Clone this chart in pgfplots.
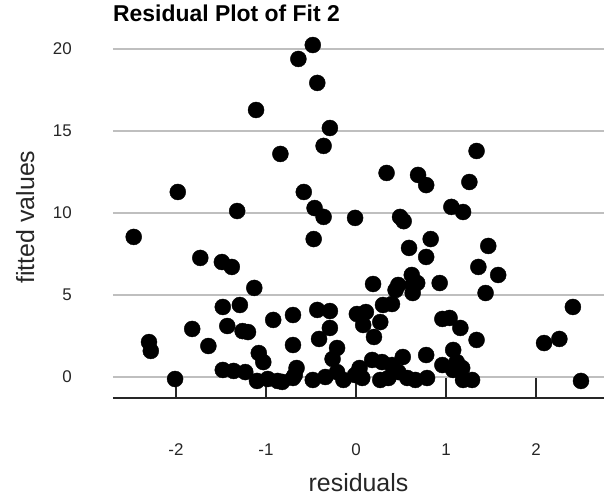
\documentclass[border=0pt]{standalone}
\usepackage{fontspec}
\setmainfont{Liberation Sans}
\setsansfont{Liberation Sans}
\usepackage{pgfplots}
\pgfplotsset{compat=1.18}

\pgfplotstableread{
x y
-2.47 8.54
-1.98 11.28
-1.32 10.12
-1.11 16.28
-0.84 13.60
-0.64 19.39
-0.48 20.24
-0.43 17.93
-0.29 15.18
-0.36 14.09
-0.58 11.28
-0.46 10.30
-0.36 9.76
-0.47 8.41
-0.01 9.70
0.34 12.44
0.69 12.32
0.78 11.70
0.49 9.76
0.53 9.50
1.06 10.37
1.19 10.06
1.26 11.89
1.34 13.78
0.59 7.87
0.83 8.41
1.47 7.99
-1.73 7.26
-1.49 7.01
-1.38 6.71
-1.13 5.43
-1.48 4.27
-1.29 4.39
-0.92 3.48
-1.82 2.93
-1.43 3.11
-1.26 2.80
-1.20 2.74
-2.30 2.13
-2.28 1.59
-1.64 1.89
-1.08 1.46
-1.03 0.91
-1.48 0.43
-1.36 0.37
-1.23 0.30
-2.01 -0.12
-1.10 -0.24
-0.98 -0.12
-0.87 -0.24
-0.82 -0.30
-0.68 0.12
-0.66 0.55
-0.70 1.95
-0.70 3.78
-0.43 4.09
-0.29 4.02
-0.29 2.99
-0.41 2.32
-0.21 1.77
-0.26 1.10
0.01 3.84
0.11 3.96
0.08 3.17
0.27 3.35
0.30 4.39
0.40 4.45
0.20 2.44
0.19 5.67
0.47 5.61
0.62 6.22
0.63 5.61
0.63 5.12
0.44 5.30
0.68 5.73
0.93 5.73
0.78 7.32
0.96 3.54
1.04 3.60
1.16 2.99
1.34 2.26
1.36 6.71
1.58 6.22
1.44 5.12
2.41 4.27
2.09 2.07
2.26 2.32
2.50 -0.24
-0.48 -0.18
-0.34 0.00
-0.21 0.30
-0.14 -0.18
-0.01 0.12
0.04 0.55
0.18 1.04
0.27 -0.18
0.36 -0.06
0.40 0.73
0.52 1.22
0.47 0.30
0.57 -0.06
0.66 -0.18
0.78 1.34
0.79 -0.06
0.96 0.73
1.08 1.65
1.12 0.91
1.08 0.43
1.18 0.55
1.19 -0.18
1.29 -0.18
-0.70 -0.06
0.07 -0.06
0.29 0.91
}\resid

\begin{document}
\begin{tikzpicture}
\begin{axis}[
    scale only axis,
    width=491bp, height=362bp,
    xmin=-2.7, xmax=2.756,
    ymin=-1.28, ymax=20.79,
    axis x line*=bottom,
    axis y line*=left,
    y axis line style={draw=none},
    x axis line style={black!85, line width=1.3bp},
    xtick={-2,-1,0,1,2},
    ytick={0,5,10,15,20},
    tick align=inside,
    major tick length=20bp,
    xtick style={black!85, line width=1.2bp},
    ytick style={draw=none},
    ymajorgrids=true,
    grid style={black!25, line width=2bp},
    /pgf/number format/assume math mode=true,
    xticklabel style={font=\fontsize{17}{20}\selectfont, text=black!85, anchor=center, yshift=-52bp},
    yticklabel style={font=\fontsize{17}{20}\selectfont, text=black!85, anchor=east, inner sep=0pt, xshift=-41bp},
    xlabel={residuals},
    ylabel={fitted values},
    xlabel style={font=\fontsize{25}{28}\selectfont, text=black!85, at={(axis description cs:0.5,0)}, anchor=center, yshift=-85bp},
    ylabel style={font=\fontsize{25}{28}\selectfont, text=black!85, at={(axis description cs:-0.179,0.5)}, anchor=center},
    title={Residual Plot of Fit 2},
    title style={font=\fontsize{23}{26}\selectfont\bfseries, at={(axis description cs:0,1)}, anchor=base west, inner sep=0pt, yshift=9bp},
    clip=false,
]
\addplot[only marks, mark=*, mark size=8bp, mark options={draw=black, fill=black}] table[x=x, y=y] {\resid};
\end{axis}
\pgfresetboundingbox
\path[use as bounding box] ([shift={(-113bp,-98bp)}]current axis.south west) rectangle ([shift={(1bp,36bp)}]current axis.north east);
\end{tikzpicture}
\end{document}
